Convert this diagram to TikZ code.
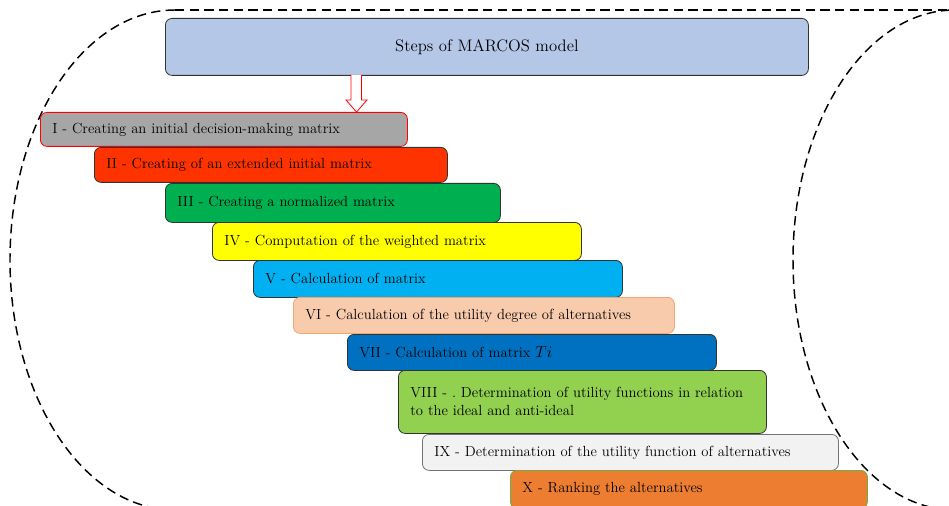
\documentclass[tikz,border=0pt]{standalone}
\usetikzlibrary{positioning}
\definecolor{titlefill}{HTML}{B4C7E7}
\definecolor{stepI}{HTML}{A6A6A6}
\definecolor{stepII}{HTML}{FF3300}
\definecolor{stepIII}{HTML}{00B050}
\definecolor{stepIV}{HTML}{FFFF00}
\definecolor{stepV}{HTML}{00B0F0}
\definecolor{stepVI}{HTML}{F8CBAD}
\definecolor{lineVI}{HTML}{F4A66E}
\definecolor{stepVII}{HTML}{0070C0}
\definecolor{stepVIII}{HTML}{92D050}
\definecolor{stepIX}{HTML}{F2F2F2}
\definecolor{stepX}{HTML}{ED7D31}
\definecolor{lineX}{HTML}{70AD47}
\begin{document}
\begin{tikzpicture}[x=0.75pt,y=-0.75pt,
  stepbox/.style={draw=black!80,line width=0.6pt,rounded corners=5pt,
    anchor=north west,align=left,inner xsep=9pt,inner ysep=0pt,
    font=\fontsize{11}{13.5}\selectfont},
  cylline/.style={line width=1.1pt,dash pattern=on 7pt off 4pt}]
% outline of the cylinder
\useasboundingbox (0,0) rectangle (949,506);
\draw[cylline] (175,10) arc[start angle=-90,end angle=-270,x radius=165,y radius=250];
\draw[cylline] (175,10) -- (955,10);
\draw[cylline] (955,260) ellipse[x radius=162,y radius=250];
\node[stepbox,fill=titlefill,text width=464.25pt,minimum height=42.75pt,align=center,
  font=\fontsize{12.5}{15}\selectfont]
  (title) at (165,18) {Steps of MARCOS model};
\node[stepbox,fill=stepI,draw=red,text width=257.25pt,minimum height=25.5pt]
  (s1) at (40,112) {I - Creating an initial decision-making matrix};
\node[stepbox,fill=stepII,text width=246.75pt,minimum height=26.25pt]
  (s2) at (94,147) {II - Creating of an extended initial matrix};
\node[stepbox,fill=stepIII,text width=233.25pt,minimum height=29.25pt]
  (s3) at (165,183) {III - Creating a normalized matrix};
\node[stepbox,fill=stepIV,text width=258.75pt,minimum height=28.5pt]
  (s4) at (212,222) {IV - Computation of the weighted matrix};
\node[stepbox,fill=stepV,text width=258.75pt,minimum height=27.75pt]
  (s5) at (253,260) {V - Calculation of matrix};
\node[stepbox,fill=stepVI,draw=lineVI,text width=267.75pt,minimum height=27pt]
  (s6) at (293,297) {VI - Calculation of the utility degree of alternatives};
\node[stepbox,fill=stepVII,text width=258.75pt,minimum height=27pt]
  (s7) at (347,334) {VII - Calculation of matrix {\large$Ti$}};
\node[stepbox,fill=stepVIII,text width=258pt,minimum height=47.25pt]
  (s8) at (398,370) {VIII - .\ Determination of utility functions in relation\\to the ideal and anti-ideal};
\node[stepbox,fill=stepIX,draw=black!55,text width=294pt,minimum height=27pt]
  (s9) at (422,434) {IX - Determination of the utility function of alternatives};
\node[stepbox,fill=stepX,draw=lineX,text width=249.75pt,minimum height=28.5pt]
  (s10) at (510,470) {X - Ranking the alternatives};
\draw[red,fill=white,line width=0.6pt] (351,75) -- (351,100) -- (346,100) -- (356.5,112)
  -- (367,100) -- (361.5,100) -- (361.5,75);
\end{tikzpicture}
\end{document}
